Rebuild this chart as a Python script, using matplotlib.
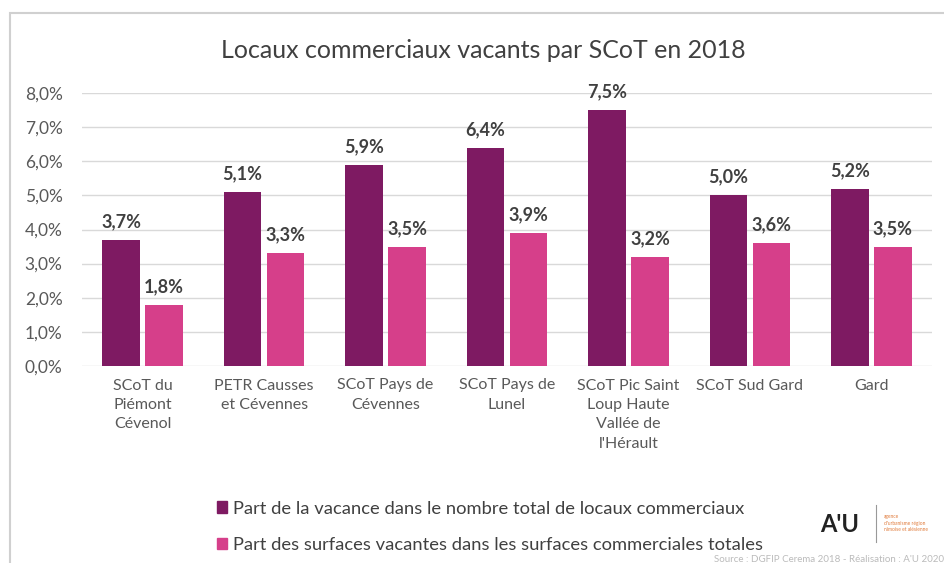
import matplotlib.pyplot as plt
import numpy as np
from matplotlib.patches import Rectangle, Patch

plt.rcParams['font.family'] = ['Lato', 'DejaVu Sans']

# data
categories = ["SCoT du\nPiémont\nCévenol", "PETR Causses\net Cévennes",
              "SCoT Pays de\nCévennes", "SCoT Pays de\nLunel",
              "SCoT Pic Saint\nLoup Haute\nVallée de\nl'Hérault",
              "SCoT Sud Gard", "Gard"]
part_locaux = [3.7, 5.1, 5.9, 6.4, 7.5, 5.0, 5.2]
part_surfaces = [1.8, 3.3, 3.5, 3.9, 3.2, 3.6, 3.5]
series_names = ["Part de la vacance dans le nombre total de locaux commerciaux",
                "Part des surfaces vacantes dans les surfaces commerciales totales"]
yticks = [0, 1, 2, 3, 4, 5, 6, 7, 8]

dark = '#7E1A62'
pink = '#D63F8A'
txt = '#404040'
grey = '#595959'

fig = plt.figure(figsize=(9.44, 5.63), dpi=100)
ax = fig.add_axes([82 / 944, 1 - 366 / 563, 850 / 944, 273 / 563])

x = np.arange(len(categories))
w = 0.31
off = 0.177
b1 = ax.bar(x - off, part_locaux, w, color=dark, zorder=3)
b2 = ax.bar(x + off, part_surfaces, w, color=pink, zorder=3)

def fr(v):
    return f"{v:.1f}".replace('.', ',') + '%'

for bars, vals in ((b1, part_locaux), (b2, part_surfaces)):
    for r, v in zip(bars, vals):
        ax.annotate(fr(v), (r.get_x() + r.get_width() / 2, v),
                    xytext=(0, 7), textcoords='offset points',
                    ha='center', va='bottom', fontsize=13, fontweight='bold',
                    color=txt, clip_on=False)

ax.set_xlim(-0.5, len(categories) - 0.5)
ax.set_ylim(0, 8)
ax.set_yticks(yticks)
ax.set_yticklabels([fr(t) for t in yticks], fontsize=12.5, color=grey)
ax.set_xticks(x)
ax.set_xticklabels(categories, fontsize=11.5, color=grey, linespacing=1.5, va='top')
ax.tick_params(axis='both', length=0)
ax.tick_params(axis='y', pad=14)
ax.tick_params(axis='x', pad=9)
ax.grid(axis='y', color='#D9D9D9', lw=1, zorder=0)
for s in ax.spines.values():
    s.set_visible(False)

fig.text(483 / 944, 1 - 50 / 563, "Locaux commerciaux vacants par SCoT en 2018",
         ha='center', va='center', fontsize=18, color=txt)

handles = [Patch(color=dark), Patch(color=pink)]
fig.legend(handles, series_names, loc='upper left',
           bbox_to_anchor=(200 / 944, 1 - 484 / 563), frameon=False,
           fontsize=13.2, labelcolor=txt, handlelength=0.55, handleheight=0.55,
           handletextpad=0.35, labelspacing=1.1)

# logo and source
fig.text(840 / 944, 1 - 525 / 563, "A'U", ha='center', va='center',
         fontsize=17, color='#222222', fontweight='bold')
fig.add_artist(plt.Line2D([876 / 944, 876 / 944], [1 - 505 / 563, 1 - 542 / 563],
                          color='#999999', lw=0.8))
fig.text(884 / 944, 1 - 523 / 563, "agence\nd'urbanisme région\nnîmoise et alésienne",
         ha='left', va='center', fontsize=3.5, color='#E07A3A', linespacing=1.3)
fig.text(944 / 944, 1 - 559 / 563, "Source : DGFIP Cerema 2018 - Réalisation : A'U 2020",
         ha='right', va='center', fontsize=7, color='#BBBBBB')

# outer frame
fig.add_artist(Rectangle((10 / 944, -0.2), 1.2, 1 - 13 / 563 + 0.2,
                         transform=fig.transFigure, fill=False,
                         edgecolor='#D0D0D0', lw=1.5))

fig.savefig('out.png', dpi=100)
